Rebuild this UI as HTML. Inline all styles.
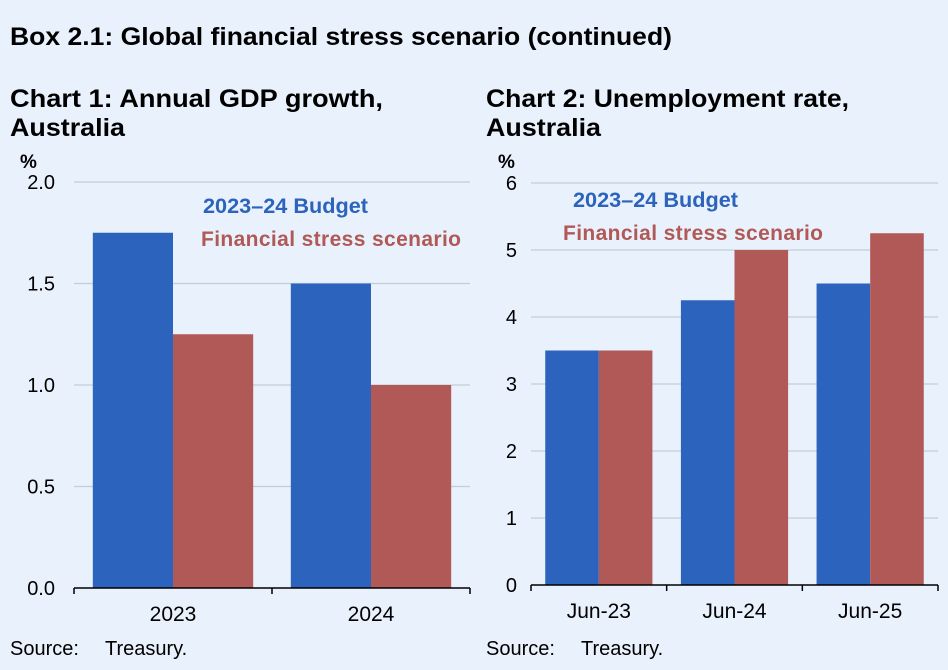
<!DOCTYPE html>
<html><head><meta charset="utf-8"><style>
body{margin:0;background:#e8f1fc;}
svg{display:block;font-family:"Liberation Sans",Arial,sans-serif;}
</style></head><body>
<svg id="s" width="948" height="670" viewBox="0 0 948 670" xmlns="http://www.w3.org/2000/svg">
<rect width="948" height="670" fill="#e8f1fc"/>
<text x="10" y="45" font-size="25" font-weight="bold" textLength="662" lengthAdjust="spacingAndGlyphs">Box 2.1: Global financial stress scenario (continued)</text>
<text x="10" y="107" font-size="25" font-weight="bold" textLength="373" lengthAdjust="spacingAndGlyphs">Chart 1: Annual GDP growth,</text>
<text x="10" y="136" font-size="25" font-weight="bold" textLength="115" lengthAdjust="spacingAndGlyphs">Australia</text>
<text x="486" y="107" font-size="25" font-weight="bold" textLength="363" lengthAdjust="spacingAndGlyphs">Chart 2: Unemployment rate,</text>
<text x="486" y="136" font-size="25" font-weight="bold" textLength="115" lengthAdjust="spacingAndGlyphs">Australia</text>
<text x="20" y="168" font-size="19" font-weight="bold">%</text>
<text x="498" y="168" font-size="19" font-weight="bold">%</text>
<g id="c1"></g><g id="c2"></g>
<text x="203" y="213" font-size="21" font-weight="bold" fill="#2b63bd" textLength="165" lengthAdjust="spacingAndGlyphs">2023–24 Budget</text>
<text x="201" y="246" font-size="21" font-weight="bold" fill="#b05957" textLength="260" lengthAdjust="spacing">Financial stress scenario</text>
<text x="573" y="207" font-size="21" font-weight="bold" fill="#2b63bd" textLength="165" lengthAdjust="spacingAndGlyphs">2023–24 Budget</text>
<text x="563" y="240" font-size="21" font-weight="bold" fill="#b05957" textLength="260" lengthAdjust="spacing">Financial stress scenario</text>
<text x="10" y="655" font-size="20">Source:</text>
<text x="105" y="655" font-size="20">Treasury.</text>
<text x="486" y="655" font-size="20">Source:</text>
<text x="581" y="655" font-size="20">Treasury.</text>
</svg>
<script>
const c1Cats=["2023","2024"];
const c1Budget=[1.75,1.5];
const c1Stress=[1.25,1.0];
const c1Ticks=[0,0.5,1,1.5,2];
const c1TickLabels=["0.0","0.5","1.0","1.5","2.0"];
const c2Cats=["Jun-23","Jun-24","Jun-25"];
const c2Budget=[3.5,4.25,4.5];
const c2Stress=[3.5,5.0,5.25];
const c2Ticks=[0,1,2,3,4,5,6];
const c2TickLabels=["0","1","2","3","4","5","6"];
const NS="http://www.w3.org/2000/svg";
function mk(g,t,a){const e=document.createElementNS(NS,t);for(const k in a)e.setAttribute(k,a[k]);g.appendChild(e);return e;}
function draw(gid,o,cats,b,s,ticks,labels,pfx){
 const g=document.getElementById(gid);
 const y=v=>o.y0-(v-o.min)/(o.max-o.min)*(o.y0-o.y1);
 const cw=(o.x1-o.x0)/cats.length;
 ticks.forEach((t,i)=>{
  if(t!==o.min){const l=mk(g,"line",{x1:o.x0,x2:o.x1,y1:y(t),y2:y(t),stroke:"#c4ccd6","stroke-width":1.3});
  
  }
  const tx=mk(g,"text",{x:o.lx,y:y(t)+7,"font-size":20,"text-anchor":"end"});tx.textContent=labels[i];
  
  
 });
 cats.forEach((c,i)=>{
  const cx=o.x0+cw*i;const bw=cw*o.bf;const st=cx+(cw-2*bw)/2;
  const r1=mk(g,"rect",{x:st,y:y(b[i]),width:bw,height:o.y0-y(b[i]),fill:"#2b63bd"});
  
  
  const r2=mk(g,"rect",{x:st+bw,y:y(s[i]),width:bw,height:o.y0-y(s[i]),fill:"#b05957"});
  
  
  const tx=mk(g,"text",{x:cx+cw/2,y:o.y0+33,"font-size":21,"text-anchor":"middle"});tx.textContent=c;
  
  
 });
 const ax=mk(g,"line",{x1:o.x0,x2:o.x1,y1:o.y0,y2:o.y0,stroke:"#000","stroke-width":1.5});
 
 
 for(let i=0;i<=cats.length;i++){const tk=mk(g,"line",{x1:o.x0+cw*i,x2:o.x0+cw*i,y1:o.y0,y2:o.y0+6,stroke:"#000","stroke-width":1.5});
 
 }
}
draw("c1",{x0:74,x1:470,y0:588,y1:182,min:0,max:2,lx:55,bf:0.405},c1Cats,c1Budget,c1Stress,c1Ticks,c1TickLabels,"chart1");
draw("c2",{x0:531,x1:938,y0:585,y1:183,min:0,max:6,lx:517,bf:0.395},c2Cats,c2Budget,c2Stress,c2Ticks,c2TickLabels,"chart2");
</script>
</body></html>
